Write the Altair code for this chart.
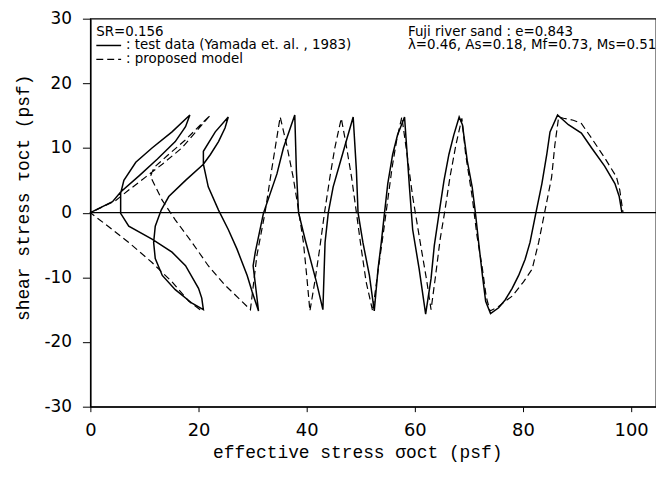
import altair as alt
import pandas as pd

# ---- data (effective stress sigma_oct, shear stress tau_oct, psf) ----
solid_sigma = [0.0, 4.1, 5.6, 9.0, 12.4, 15.7, 17.6, 18.4,
               15.1, 11.4, 8.4, 6.2, 5.6, 5.6, 7.1, 11.4, 15.1, 17.6, 20.0, 20.6, 20.9,
               18.8, 15.7, 13.3, 12.0, 11.7, 12.0, 13.1, 14.5, 17.6, 20.9, 22.2, 23.7, 24.9, 25.5,
               23.1, 20.9, 20.9, 21.8, 23.7, 25.5, 27.1, 29.0, 29.9, 31.1,
               30.1, 30.5, 32.0, 34.5, 35.7, 37.8,
               38.1, 38.5, 39.7, 41.8, 43.0,
               43.4, 44.0, 44.9, 46.1, 47.3, 48.6,
               49.2, 49.5, 50.4, 51.6, 52.5,
               53.2, 53.8, 54.4, 55.0, 55.9, 56.8, 58.1,
               58.5, 59.0, 59.6, 60.8, 62.0,
               63.0, 63.6, 64.5, 65.4, 66.3, 67.2, 68.2,
               68.8, 69.7, 70.6, 71.2, 71.8, 72.5, 73.1, 74.0,
               75.5, 76.7, 78.0, 79.2, 80.4, 81.3, 82.4, 83.5, 84.4, 85.0, 86.4,
               88.4, 90.8, 92.7, 95.1, 97.0, 97.8, 98.3]
solid_tau = [0.0, 1.7, 3.2, 5.7, 8.3, 11.0, 13.3, 15.1,
             12.5, 10.0, 7.8, 5.0, 3.0, -0.1, -2.1, -4.1, -6.1, -8.2, -11.7, -13.2, -15.0,
             -14.0, -11.9, -9.7, -7.1, -4.6, -2.1, 0.4, 2.5, 5.0, 7.5, 9.0, 11.0, 13.1, 14.8,
             12.5, 9.5, 7.5, 4.0, 0.4, -2.6, -5.6, -9.7, -12.2, -15.2,
             -8.2, -6.1, -0.1, 6.0, 10.0, 15.1,
             6.5, 0.0, -4.1, -10.7, -15.0,
             -4.6, 0.0, 4.0, 7.5, 11.0, 14.8,
             6.5, 0.0, -4.6, -9.7, -15.2,
             -8.7, -4.6, 0.0, 4.5, 9.0, 12.0, 14.8,
             10.0, 4.0, -2.6, -8.7, -15.7,
             -10.2, -5.1, 0.0, 5.0, 9.0, 12.0, 14.8,
             13.6, 8.0, 4.0, 0.0, -4.6, -9.7, -13.7, -15.6,
             -14.7, -13.5, -11.7, -9.7, -7.2, -4.6, 0.0, 4.5, 9.0, 12.5, 15.1,
             13.6, 12.3, 10.0, 7.2, 4.5, 2.5, 0.0]

dashed_sigma = [20.3, 18.2, 15.1, 11.4, 7.1, 2.8, 0.0,
                4.7, 7.1, 10.2, 13.3, 16.9, 22.2,
                17.5, 14.2, 11.8, 11.1,
                13.3, 15.7, 18.8, 21.8, 24.9, 29.6,
                30.8, 32.3, 33.5, 35.1,
                36.3, 37.5, 38.5, 39.4, 40.0, 40.6,
                41.5, 42.4, 43.3, 44.3, 45.2, 46.4,
                47.3, 48.3, 49.2, 50.1, 51.0, 52.2,
                53.2, 54.2, 55.0, 55.8, 56.7, 57.6,
                58.4, 59.6, 61.1, 62.2, 63.0,
                63.8, 64.7, 65.5, 66.5, 67.6, 68.7,
                69.4, 70.6, 71.5, 72.5, 73.2, 73.9,
                75.5, 76.7, 78.0, 80.1, 81.7, 82.9, 84.0, 85.3, 85.9, 86.6,
                87.5, 89.3, 90.8, 92.7, 95.1, 97.3, 97.9, 98.5]
dashed_tau = [-15.0, -13.7, -10.7, -7.7, -4.6, -1.8, 0.0,
              1.9, 3.5, 5.5, 7.5, 10.0, 15.1,
              11.2, 8.8, 7.0, 5.6,
              1.9, -1.1, -4.6, -8.2, -11.2, -15.0,
              -6.6, 0.0, 6.5, 14.8,
              10.5, 5.5, 0.4, -4.6, -9.7, -15.2,
              -10.7, -5.6, 0.0, 5.5, 10.0, 14.6,
              10.5, 5.5, 0.0, -5.6, -10.7, -15.2,
              -9.0, -3.0, 2.0, 7.0, 11.5, 14.8,
              10.0, 2.5, -5.1, -10.5, -15.0,
              -10.0, -4.0, 0.0, 5.5, 10.5, 14.6,
              9.0, 2.5, -3.6, -8.7, -13.0, -15.2,
              -14.5, -13.7, -12.9, -10.7, -8.7, -4.6, 0.0, 5.5, 10.5, 14.8,
              14.6, 14.3, 13.8, 11.5, 8.5, 5.5, 3.5, 0.0]

x_ticks = [0, 20, 40, 60, 80, 100]
y_ticks = [-30, -20, -10, 0, 10, 20, 30]

note_left = ["SR=0.156", ": test data (Yamada et. al. , 1983)", ": proposed model"]
note_right = ["Fuji river sand : e=0.843", "λ=0.46, As=0.18, Mf=0.73, Ms=0.51"]

# ---- build tables ----
solid_df = pd.DataFrame({"sigma": solid_sigma, "tau": solid_tau, "i": range(len(solid_sigma))})
dashed_df = pd.DataFrame({"sigma": dashed_sigma, "tau": dashed_tau, "i": range(len(dashed_sigma))})
one = pd.DataFrame({"k": [0]})

W, H = 570, 391
xscale = alt.Scale(domain=[0, 104.6], nice=False, zero=False)
yscale = alt.Scale(domain=[-30, 30], nice=False)

LABEL_FONT = "DejaVu Sans"
TITLE_FONT = "Liberation Mono"
HYPHEN_LABEL = "datum.value < 0 ? '-' + abs(datum.value) : '' + datum.value"

xaxis = alt.Axis(values=x_ticks, title="effective stress σoct (psf)", grid=False,
                 tickSize=5, tickColor="black", domainColor="black", domainWidth=1.3,
                 labelFont=LABEL_FONT, labelFontSize=18, labelColor="black", labelPadding=10,
                 labelFlush=False,
                 titleFont=TITLE_FONT, titleFontSize=18, titleFontWeight="normal",
                 titleColor="black", titlePadding=4, titleX=269)
yaxis = alt.Axis(values=y_ticks, title="shear stress τoct (psf)", grid=False,
                 tickSize=8, tickColor="black", domainColor="black", domainWidth=1.3,
                 labelFont=LABEL_FONT, labelFontSize=17, labelColor="black", labelPadding=11,
                 labelFlush=False, labelExpr=HYPHEN_LABEL,
                 titleFont=TITLE_FONT, titleFontSize=18, titleFontWeight="normal",
                 titleColor="black", titlePadding=12, titleY=180)

zero_line = alt.Chart(one).mark_rule(color="black", strokeWidth=1.3).encode(
    y=alt.datum(0, scale=yscale, axis=yaxis))

solid = alt.Chart(solid_df).mark_line(color="black", strokeWidth=1.5).encode(
    x=alt.X("sigma:Q", scale=xscale, axis=xaxis),
    y=alt.Y("tau:Q", scale=yscale, axis=yaxis),
    order="i:Q")

dashed = alt.Chart(dashed_df).mark_line(color="black", strokeWidth=1.2, strokeDash=[7, 4]).encode(
    x="sigma:Q", y="tau:Q", order="i:Q")

TXT_L = dict(align="left", baseline="middle", font=LABEL_FONT, fontSize=13.5, color="black")
TXT_R = dict(align="left", baseline="middle", font=LABEL_FONT, fontSize=13.5, color="black")

t_sr = alt.Chart(one).mark_text(text=note_left[0], **TXT_R).encode(x=alt.value(6), y=alt.value(13))
t_test = alt.Chart(one).mark_text(text=note_left[1], **TXT_L).encode(x=alt.value(36), y=alt.value(27))
t_model = alt.Chart(one).mark_text(text=note_left[2], **TXT_L).encode(x=alt.value(36), y=alt.value(41))
t_fuji = alt.Chart(one).mark_text(text=note_right[0], **TXT_R).encode(x=alt.value(320), y=alt.value(13))
t_par = alt.Chart(one).mark_text(text=note_right[1], **TXT_R).encode(x=alt.value(320), y=alt.value(27))

leg_solid = alt.Chart(one).mark_rule(color="black", strokeWidth=1.5).encode(
    x=alt.value(6), x2=alt.value(31), y=alt.value(27))
leg_dash = alt.Chart(one).mark_rule(color="black", strokeWidth=1.2, strokeDash=[7, 4]).encode(
    x=alt.value(6), x2=alt.value(31), y=alt.value(41))

chart = alt.layer(zero_line, solid, dashed, leg_solid, leg_dash,
                  t_sr, t_test, t_model, t_fuji, t_par).properties(
    width=W, height=H,
    autosize=alt.AutoSizeParams(type="none"),
    padding={"left": 83, "top": 9, "right": 0, "bottom": 58},
    background="white",
).configure_view(stroke="black", strokeWidth=1.3)

chart.save("out.html", embed_options={"renderer": "svg", "actions": False})
